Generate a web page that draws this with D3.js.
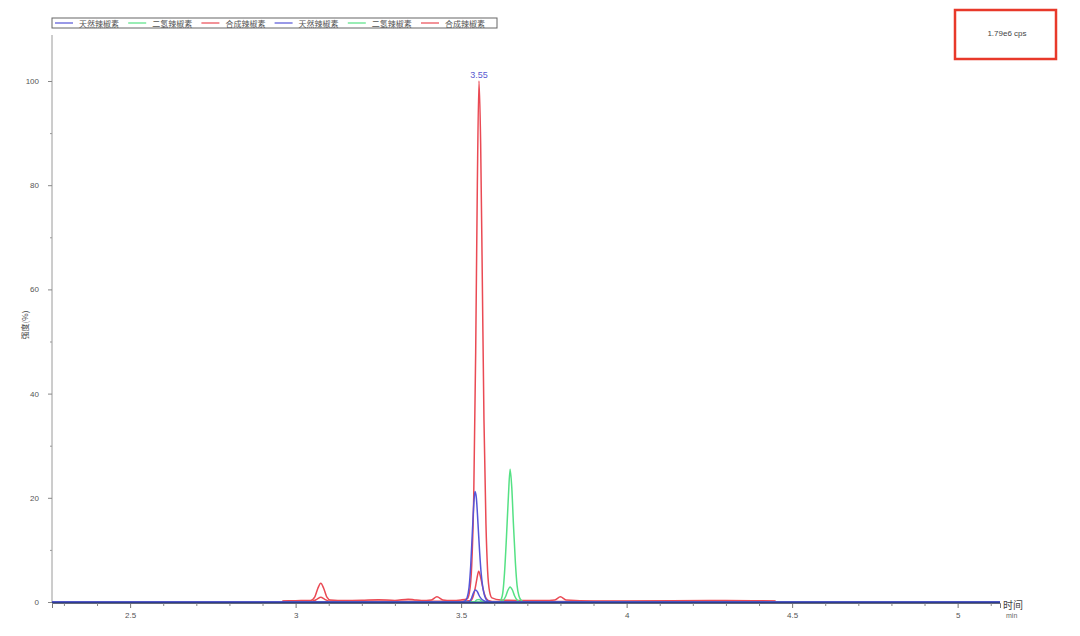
<!DOCTYPE html>
<html><head><meta charset="utf-8">
<script src="https://cdn.jsdelivr.net/npm/d3@7/dist/d3.min.js"></script>
<style>
body{margin:0;background:#fff;}
svg{display:block;font-family:"Liberation Sans",Arial,sans-serif;}
</style></head>
<body><svg id="c" width="1080" height="636"></svg>
<script>
// ---- data (time in min, intensity in %) ----
const seriesNames = ["天然辣椒素","二氢辣椒素","合成辣椒素","天然辣椒素","二氢辣椒素","合成辣椒素"];
const seriesColors = ["#5555d8","#55e184","#ea4a54","#5555d8","#55e184","#ea4a54"];
const xMajorTicks = [2.5,3,3.5,4,4.5,5];
const yMajorTicks = [0,20,40,60,80,100];
const peakLabel = "3.55";
const scaleLabel = "1.79e6 cps";

const capsA = [[2.264,0],[3.50,0],[3.512,0.2],[3.518,0.8],[3.524,2.8],[3.529,7],[3.534,13.5],[3.539,19.5],[3.542,21.2],[3.546,20],[3.551,15],[3.556,9.5],[3.561,5.2],[3.566,2.6],[3.571,1.2],[3.577,0.4],[3.585,0.1],[3.595,0],[5.128,0]];
const dihydroA = [[2.97,0],[3.54,0],[3.547,0.4],[3.555,0.5],[3.563,0.1],[3.57,0],[3.615,0],[3.621,0.5],[3.626,1.8],[3.631,5.5],[3.637,12.5],[3.643,20.5],[3.648,25.5],[3.653,22],[3.658,15],[3.664,7.5],[3.669,3.2],[3.675,1.1],[3.682,0.3],[3.69,0],[5.128,0]];
const synthA = [[2.96,0.2],[3.00,0.25],[3.045,0.3],[3.058,1.0],[3.067,2.6],[3.076,3.6],[3.085,2.6],[3.094,1.0],[3.105,0.4],[3.15,0.3],[3.20,0.35],[3.25,0.45],[3.30,0.3],[3.34,0.55],[3.36,0.4],[3.38,0.3],[3.41,0.4],[3.427,1.0],[3.445,0.4],[3.47,0.3],[3.50,0.4],[3.518,0.6],[3.525,1.8],[3.532,7],[3.538,20],[3.544,48],[3.549,80],[3.554,100],[3.559,88],[3.564,62],[3.569,35],[3.575,15],[3.58,6],[3.586,2],[3.593,0.8],[3.62,0.4],[3.70,0.3],[3.75,0.3],[3.783,0.4],[3.80,1.0],[3.817,0.4],[3.90,0.2],[4.00,0.2],[4.25,0.3],[4.30,0.3],[4.45,0.2]];
const capsB = [[2.264,0],[3.52,0],[3.527,0.2],[3.532,0.8],[3.537,1.7],[3.543,2.3],[3.549,2.0],[3.554,1.3],[3.56,0.7],[3.567,0.3],[3.577,0.05],[3.59,0],[5.128,0]];
const dihydroB = [[2.97,0],[3.62,0],[3.627,0.3],[3.634,1.0],[3.641,2.2],[3.648,2.9],[3.655,2.3],[3.662,1.1],[3.669,0.4],[3.679,0.05],[3.69,0],[4.45,0]];
const synthB = [[2.96,0.1],[3.05,0.15],[3.064,0.5],[3.076,0.9],[3.088,0.5],[3.10,0.2],[3.30,0.15],[3.50,0.15],[3.53,0.3],[3.537,1.2],[3.543,2.8],[3.548,4.6],[3.553,5.9],[3.558,5.0],[3.564,3.2],[3.57,1.6],[3.577,0.6],[3.587,0.2],[3.60,0.1],[4.00,0.1],[4.25,0.2],[4.45,0.1]];
const seriesData = [capsA, dihydroA, synthA, capsB, dihydroB, synthB];

// ---- drawing ----
const svg = d3.select("#c");
const x = d3.scaleLinear().domain([2.264,5.128]).range([52,1000]);
const y = d3.scaleLinear().domain([0,100]).range([602,81]);
const yTop = 35;

svg.append("defs").append("clipPath").attr("id","plot")
  .append("rect").attr("x",52).attr("y",yTop).attr("width",948).attr("height",575);

// y axis
svg.append("line").attr("x1",52).attr("x2",52).attr("y1",yTop).attr("y2",603).attr("stroke","#9a9a9a").attr("stroke-width",1);
const yAx = svg.append("g").attr("transform","translate(52,0)")
  .call(d3.axisLeft(y).tickValues(yMajorTicks).tickSize(4).tickFormat(d3.format("d")));
yAx.select(".domain").remove();
yAx.selectAll("line").attr("stroke","#888");
yAx.selectAll("text").attr("font-size",8).attr("fill","#555").attr("dx",-6);
const yMin = svg.append("g").attr("transform","translate(52,0)")
  .call(d3.axisLeft(y).tickValues(d3.range(10,110,20)).tickSize(2).tickFormat(""));
yMin.select(".domain").remove();
yMin.selectAll("line").attr("stroke","#999");

// x axis
const xAx = svg.append("g").attr("transform","translate(0,603)")
  .call(d3.axisBottom(x).tickValues(xMajorTicks).tickSize(5).tickFormat(d=>String(d)));
xAx.select(".domain").attr("stroke","#777");
xAx.selectAll("line").attr("stroke","#777");
xAx.selectAll("text").attr("font-size",8).attr("fill","#555").attr("dy","0.9em");
const minorX = d3.range(23,52).map(v=>v/10).filter(v=>Math.abs(v*2-Math.round(v*2))>1e-6);
const xMin = svg.append("g").attr("transform","translate(0,603)")
  .call(d3.axisBottom(x).tickValues(minorX).tickSize(3).tickFormat(""));
xMin.select(".domain").remove();
xMin.selectAll("line").attr("stroke","#888");

// traces
const line = d3.line().x(d=>x(d[0])).y(d=>y(d[1])).curve(d3.curveMonotoneX);
const order = [2,5,1,4,0,3];
const tg = svg.append("g").attr("clip-path","url(#plot)");
order.forEach(i=>{
  tg.append("path").datum(seriesData[i]).attr("d",line)
    .attr("fill","none").attr("stroke",seriesColors[i]).attr("stroke-width",1.5).attr("stroke-linejoin","round");
});
// dark baseline over axis
svg.append("line").attr("x1",52).attr("x2",1000).attr("y1",y(0)+0.5).attr("y2",y(0)+0.5).attr("stroke","#2d3c8f").attr("stroke-width",1.4);

// peak label
svg.append("text").attr("x",x(3.554)).attr("y",y(100)-3).attr("text-anchor","middle")
  .attr("font-size",9).attr("fill","#5a5ad0").text(peakLabel);

// axis titles
svg.append("text").attr("x",1003).attr("y",609).attr("font-size",10).attr("fill","#444")
  .attr("font-family","Noto Sans CJK SC").text("时间");
svg.append("text").attr("x",1006).attr("y",618).attr("font-size",7).attr("fill","#666").text("min");
svg.append("text").attr("transform","translate(28,325) rotate(-90)").attr("text-anchor","middle")
  .attr("font-size",8).attr("fill","#444").attr("font-family","Noto Sans CJK SC").text("强度(%)");

// legend
const lg = svg.append("g");
lg.append("rect").attr("x",52).attr("y",18).attr("width",445).attr("height",10)
  .attr("fill","#fff").attr("stroke","#666").attr("stroke-width",1);
seriesNames.forEach((n,i)=>{
  const x0 = 55 + i*73.2;
  lg.append("line").attr("x1",x0).attr("x2",x0+18).attr("y1",23).attr("y2",23)
    .attr("stroke",seriesColors[i]).attr("stroke-width",1.2);
  lg.append("text").attr("x",x0+24).attr("y",26.5).attr("font-size",8).attr("fill","#555")
    .attr("font-family","Noto Sans CJK SC").text(n);
});

// scale box
svg.append("rect").attr("x",955).attr("y",10).attr("width",101).attr("height",49)
  .attr("fill","none").attr("stroke","#e8392a").attr("stroke-width",2.5);
svg.append("text").attr("x",1007).attr("y",36).attr("text-anchor","middle")
  .attr("font-size",8).attr("fill","#444").text(scaleLabel);
</script></body></html>
